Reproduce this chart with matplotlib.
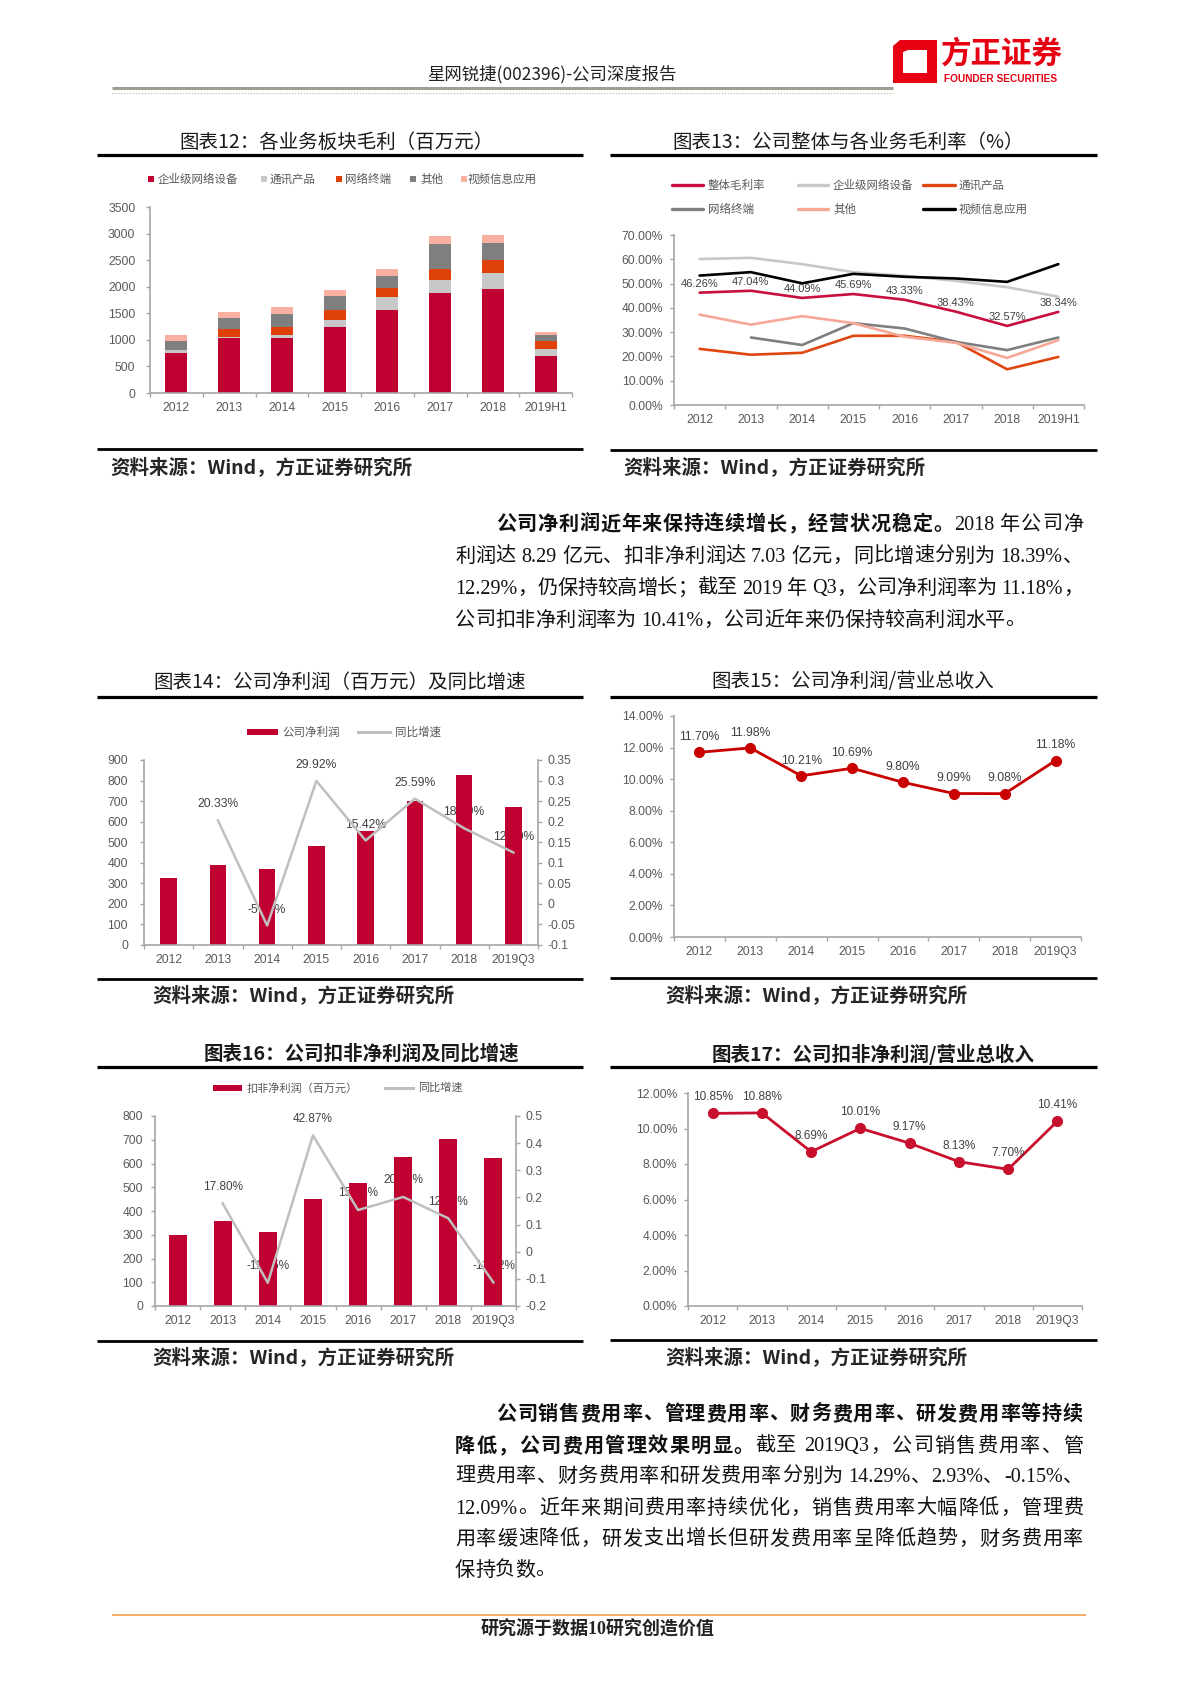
import numpy as np
import matplotlib
matplotlib.use('Agg')
import matplotlib.pyplot as plt
from matplotlib.lines import Line2D
from matplotlib.patches import Rectangle, PathPatch
from matplotlib.path import Path
from matplotlib.ticker import FuncFormatter

plt.rcParams['font.family'] = ['Liberation Sans', 'Noto Sans CJK SC', 'DejaVu Sans']
plt.rcParams['axes.unicode_minus'] = False

# ---------------- data ----------------
years_h1 = ['2012', '2013', '2014', '2015', '2016', '2017', '2018', '2019H1']
years_q3 = ['2012', '2013', '2014', '2015', '2016', '2017', '2018', '2019Q3']

# 图表12 各业务板块毛利（百万元）
seg_names = ['企业级网络设备', '通讯产品', '网络终端', '其他', '视频信息应用']
gp_enterprise = [750, 1030, 1030, 1240, 1560, 1890, 1950, 690]
gp_comm = [50, 30, 60, 140, 240, 230, 300, 130]
gp_terminal = [0, 140, 150, 180, 180, 210, 260, 150]
gp_other = [180, 210, 250, 270, 220, 470, 310, 120]
gp_video = [110, 120, 130, 110, 130, 150, 160, 50]

# 图表13 公司整体与各业务毛利率（%）
gm_names = ['整体毛利率', '企业级网络设备', '通讯产品', '网络终端', '其他', '视频信息应用']
gm_total = [46.26, 47.04, 44.09, 45.69, 43.33, 38.43, 32.57, 38.34]
gm_enterprise = [60.1, 60.6, 58.0, 54.7, 53.2, 51.1, 48.5, 44.6]
gm_comm = [23.1, 20.7, 21.5, 28.5, 28.5, 26.0, 14.7, 19.8]
gm_terminal = [np.nan, 27.8, 24.7, 33.7, 31.5, 26.0, 22.6, 27.8]
gm_other = [37.2, 33.1, 36.6, 33.7, 28.1, 25.6, 19.4, 26.7]
gm_video = [53.3, 54.7, 50.1, 54.0, 52.8, 52.1, 50.7, 58.0]

# 图表14 公司净利润（百万元）及同比增速
net_profit = [325, 388, 372, 480, 556, 700, 829, 670]
net_profit_yoy = [np.nan, 0.2033, -0.0526, 0.2992, 0.1542, 0.2559, 0.1839, 0.1250]

# 图表15 公司净利润/营业总收入 (%)
net_margin = [11.70, 11.98, 10.21, 10.69, 9.80, 9.09, 9.08, 11.18]

# 图表16 公司扣非净利润及同比增速
ded_profit = [301, 356, 312, 451, 520, 628, 703, 623]
ded_profit_yoy = [np.nan, 0.1780, -0.1145, 0.4287, 0.1534, 0.2018, 0.1229, -0.1132]

# 图表17 公司扣非净利润/营业总收入 (%)
ded_margin = [10.85, 10.88, 8.69, 10.01, 9.17, 8.13, 7.70, 10.41]

# ---------------- layout helpers ----------------
W, H = 1200, 1698
fig = plt.figure(figsize=(W / 100, H / 100), dpi=100)
fig.patch.set_facecolor('white')
renderer = fig.canvas.get_renderer()

CJK = ['Noto Sans CJK SC', 'Liberation Sans']
PFAM = ['Liberation Serif', 'Noto Sans CJK SC']
TICKC = '#595959'
AXC = '#A6A6A6'
LABC = '#404040'
RED = '#C00030'


def fy(y):
    return 1 - y / H


def axes_px(x0, y0, x1, y1):
    return fig.add_axes([x0 / W, 1 - y1 / H, (x1 - x0) / W, (y1 - y0) / H])


def hline(x0, x1, y, lw, color='black', ls='-'):
    fig.add_artist(Line2D([x0 / W, x1 / W], [fy(y), fy(y)], transform=fig.transFigure,
                          color=color, lw=lw, ls=ls, solid_capstyle='butt'))


def ftext(x, y, s, **kw):
    kw.setdefault('va', 'center')
    return fig.text(x / W, fy(y), s, **kw)


def style_axes(ax, labels, ypad):
    n = len(labels)
    ax.set_xlim(-0.5, n - 0.5)
    ax.set_xticks(np.arange(n))
    ax.set_xticklabels(labels)
    ax.set_xticks(np.arange(-0.5, n, 1.0), minor=True)
    ax.tick_params(axis='x', which='major', length=0, pad=6.5, labelsize=8.7, labelcolor=TICKC)
    ax.tick_params(axis='x', which='minor', length=3, width=1.0, color=AXC, direction='out')
    ax.tick_params(axis='y', which='major', length=3, width=1.0, color=AXC, direction='out',
                   labelsize=8.7, labelcolor=TICKC, pad=ypad)
    ax.spines['top'].set_visible(False)
    ax.spines['right'].set_visible(False)
    for s in ('left', 'bottom'):
        ax.spines[s].set_color(AXC)
        ax.spines[s].set_linewidth(1.2)
    ax.patch.set_alpha(0)


def chart_frame(title, xc, x0, x1, ytitle, yline, ybottom, src_x, src_y, weight='normal'):
    ftext(xc, ytitle, title, ha='center', fontsize=14, family=CJK, color='#1a1a1a', fontweight=weight)
    hline(x0, x1, yline, 2.3)
    hline(x0, x1, ybottom, 2.0)
    ftext(src_x, src_y, '资料来源：Wind，方正证券研究所', ha='left', fontsize=14,
          fontweight='bold', family=CJK, color='#262626')


def pct_fmt(v, p):
    return f'{v:.2f}%'


def g_fmt(v, p):
    r = round(v, 2)
    if abs(r) < 1e-9:
        r = 0
    return f'{r:g}'


# ---------------- header ----------------
ftext(552, 74, '星网锐捷(002396)-公司深度报告', ha='center', fontsize=12.5, family=CJK, color='#222222')
hline(112, 893, 88, 2.2, color='#A39E93')
hline(112, 893, 93, 0.8, color='#B5AE9F', ls=':')

# logo
logo_red = '#E60012'
verts = [(893, 46), (900, 40), (937, 40), (937, 83), (893, 83), (893, 46),
         (903, 52), (903, 73), (927, 73), (927, 50), (908, 50), (903, 52)]
codes = [Path.MOVETO] + [Path.LINETO] * 4 + [Path.CLOSEPOLY] + [Path.MOVETO] + [Path.LINETO] * 4 + [Path.CLOSEPOLY]
verts_fig = [(vx / W, fy(vy)) for vx, vy in verts]
fig.add_artist(PathPatch(Path(verts_fig, codes), transform=fig.transFigure, color=logo_red, lw=0))
ftext(941, 54, '方正证券', ha='left', fontsize=22, fontweight='bold', family=CJK, color=logo_red)
ftext(944, 79, 'FOUNDER SECURITIES', ha='left', fontsize=7.3, fontweight='bold', color=logo_red)

# ---------------- 图表12 ----------------
chart_frame('图表12：各业务板块毛利（百万元）', 336, 97, 583, 142, 155, 449, 110, 468)
ax = axes_px(150, 207, 572, 393)
seg_colors = ['#C00030', '#C8C8C8', '#E0400A', '#7F7F7F', '#F8B0A0']
x = np.arange(len(years_h1))
bottom = np.zeros(len(years_h1))
for vals, col in zip([gp_enterprise, gp_comm, gp_terminal, gp_other, gp_video], seg_colors):
    ax.bar(x, vals, width=0.42, bottom=bottom, color=col, zorder=2)
    bottom += np.array(vals, dtype=float)
ax.set_ylim(0, 3500)
ax.set_yticks(np.arange(0, 3501, 500))
style_axes(ax, years_h1, 7.5)
leg12 = [(148, 158), (261, 270), (336, 345), (410, 420), (461, 468)]
for (sx, tx), name, col in zip(leg12, seg_names, seg_colors):
    fig.add_artist(Rectangle((sx / W, fy(182)), 6 / W, 6 / H, transform=fig.transFigure, color=col, lw=0))
    ftext(tx, 179, name, ha='left', fontsize=8.3, family=CJK, color=TICKC)

# ---------------- 图表13 ----------------
chart_frame('图表13：公司整体与各业务毛利率（%）', 848, 610, 1097, 142, 155, 450, 623, 468)
ax = axes_px(674, 235, 1084, 405)
gm_colors = ['#C8103E', '#C8C8C8', '#E0460F', '#7F7F7F', '#F6A898', '#000000']
gm_series = [gm_total, gm_enterprise, gm_comm, gm_terminal, gm_other, gm_video]
x = np.arange(len(years_h1))
for vals, col in zip(gm_series, gm_colors):
    ax.plot(x, vals, color=col, lw=1.9, solid_capstyle='round', zorder=3)
for i, v in enumerate(gm_total):
    ax.annotate(f'{v:.2f}%', (i, v), xytext=(0, 6.5), textcoords='offset points',
                ha='center', va='center', fontsize=8, color=LABC, zorder=4)
ax.set_ylim(0, 70)
ax.set_yticks(np.arange(0, 71, 10))
ax.yaxis.set_major_formatter(FuncFormatter(pct_fmt))
style_axes(ax, years_h1, 4.9)
leg13_cols = [(672, 703, 708), (798, 828, 833), (923, 955, 959)]
leg13_rows = [185, 209]
for k, (name, col) in enumerate(zip(gm_names, gm_colors)):
    r, c = divmod(k, 3)
    lx0, lx1, tx = leg13_cols[c]
    yy = leg13_rows[r]
    fig.add_artist(Line2D([lx0 / W, lx1 / W], [fy(yy), fy(yy)], transform=fig.transFigure,
                          color=col, lw=2.4, solid_capstyle='round'))
    ftext(tx, yy, name, ha='left', fontsize=8.3, family=CJK, color=TICKC)

# ---------------- middle paragraph ----------------


def tokenize(s):
    toks, buf = [], ''
    for ch in s:
        if ord(ch) < 128 and ch != ' ':
            buf += ch
        else:
            if buf:
                toks.append(buf)
                buf = ''
            toks.append(ch)
    if buf:
        toks.append(buf)
    return toks


def draw_line(segments, x0, x1, y, fs=14.5, justify=True):
    items = []
    for s, bold in segments:
        for t in tokenize(s):
            if t == ' ':
                items.append((None, fs * 0.25 * 100 / 72))
            else:
                txt = fig.text(0, fy(y), t, fontsize=fs, fontweight='bold' if bold else 'normal',
                               family=PFAM, va='center', ha='left', color='#111111')
                items.append((txt, txt.get_window_extent(renderer).width))
    total = sum(w for _, w in items)
    n = len(items)
    gap = (x1 - x0 - total) / (n - 1) if (justify and n > 1) else 0
    xx = x0
    for txt, w in items:
        if txt is not None:
            txt.set_x(xx / W)
        xx += w + gap


para1 = [
    ([('公司净利润近年来保持连续增长，经营状况稳定。', True), ('2018 年公司净', False)], 496, True),
    ([('利润达 8.29 亿元、扣非净利润达 7.03 亿元，同比增速分别为 18.39%、', False)], 455, True),
    ([('12.29%，仍保持较高增长；截至 2019 年 Q3，公司净利润率为 11.18%，', False)], 455, True),
    ([('公司扣非净利润率为 10.41%，公司近年来仍保持较高利润水平。', False)], 455, False),
]
for (segs, x0, just), yy in zip(para1, [525, 557, 589, 621]):
    draw_line(segs, x0, 1083, yy, justify=just)

# ---------------- 图表14 ----------------
chart_frame('图表14：公司净利润（百万元）及同比增速', 340, 97, 583, 682, 697, 979, 152, 996)
ax = axes_px(144, 760, 538, 945)
x = np.arange(len(years_q3))
ax.bar(x, net_profit, width=0.33, color=RED, zorder=2)
ax.set_ylim(0, 900)
ax.set_yticks(np.arange(0, 901, 100))
style_axes(ax, years_q3, 8.5)
ax2 = ax.twinx()
ax2.plot(x, net_profit_yoy, color='#BFBFBF', lw=1.8, zorder=3)
ax2.set_ylim(-0.1, 0.35)
ax2.set_yticks(np.round(np.arange(-0.1, 0.351, 0.05), 2))
ax2.yaxis.set_major_formatter(FuncFormatter(g_fmt))
ax2.tick_params(axis='y', length=3, width=1.0, color=AXC, labelsize=8.7, labelcolor=TICKC, pad=4.2)
for s in ('top', 'left', 'bottom'):
    ax2.spines[s].set_visible(False)
ax2.spines['right'].set_color(AXC)
ax2.spines['right'].set_linewidth(1.2)
for i, v in enumerate(net_profit_yoy):
    if np.isnan(v):
        continue
    ax.annotate(f'{v * 100:.2f}%', xy=(i, v), xycoords=ax2.transData, xytext=(0, 11.5),
                textcoords='offset points', ha='center', va='center', fontsize=8.7,
                color=LABC, zorder=1)
fig.add_artist(Rectangle((247 / W, fy(735)), 31 / W, 6 / H, transform=fig.transFigure, color=RED, lw=0))
ftext(282, 732, '公司净利润', ha='left', fontsize=8.3, family=CJK, color=TICKC)
fig.add_artist(Line2D([358 / W, 390 / W], [fy(732), fy(732)], transform=fig.transFigure, color='#BFBFBF', lw=2.2))
ftext(395, 732, '同比增速', ha='left', fontsize=8.3, family=CJK, color=TICKC)

# ---------------- 图表15 ----------------
chart_frame('图表15：公司净利润/营业总收入', 853, 610, 1097, 682, 697, 978, 665, 996)
ax = axes_px(674, 716, 1081, 937)
x = np.arange(len(years_q3))
ax.plot(x, net_margin, color='#C80000', lw=2.0, marker='o', ms=7, zorder=3)
for i, v in enumerate(net_margin):
    ax.annotate(f'{v:.2f}%', (i, v), xytext=(0, 11), textcoords='offset points',
                ha='center', va='center', fontsize=8.7, color=LABC, zorder=4)
ax.set_ylim(0, 14)
ax.set_yticks(np.arange(0, 14.1, 2))
ax.yaxis.set_major_formatter(FuncFormatter(pct_fmt))
style_axes(ax, years_q3, 4.9)

# ---------------- 图表16 ----------------
chart_frame('图表16：公司扣非净利润及同比增速', 361, 97, 583, 1054, 1067, 1341, 152, 1358, weight='semibold')
ax = axes_px(155, 1116, 516, 1306)
x = np.arange(len(years_q3))
ax.bar(x, ded_profit, width=0.4, color=RED, zorder=2)
ax.set_ylim(0, 800)
ax.set_yticks(np.arange(0, 801, 100))
style_axes(ax, years_q3, 5.6)
ax2 = ax.twinx()
ax2.plot(x, ded_profit_yoy, color='#BFBFBF', lw=1.8, zorder=3)
ax2.set_ylim(-0.2, 0.5)
ax2.set_yticks(np.round(np.arange(-0.2, 0.51, 0.1), 1))
ax2.yaxis.set_major_formatter(FuncFormatter(g_fmt))
ax2.tick_params(axis='y', length=3, width=1.0, color=AXC, labelsize=8.7, labelcolor=TICKC, pad=3.5)
for s in ('top', 'left', 'bottom'):
    ax2.spines[s].set_visible(False)
ax2.spines['right'].set_color(AXC)
ax2.spines['right'].set_linewidth(1.2)
for i, v in enumerate(ded_profit_yoy):
    if np.isnan(v):
        continue
    ax.annotate(f'{v * 100:.2f}%', xy=(i, v), xycoords=ax2.transData, xytext=(0, 12),
                textcoords='offset points', ha='center', va='center', fontsize=8.5,
                color=LABC, zorder=1)
fig.add_artist(Rectangle((213 / W, fy(1091)), 29 / W, 6 / H, transform=fig.transFigure, color=RED, lw=0))
ftext(247, 1088, '扣非净利润（百万元）', ha='left', fontsize=8, family=CJK, color=TICKC)
fig.add_artist(Line2D([385 / W, 413 / W], [fy(1088), fy(1088)], transform=fig.transFigure, color='#BFBFBF', lw=2.2))
ftext(418, 1088, '同比增速', ha='left', fontsize=8, family=CJK, color=TICKC)

# ---------------- 图表17 ----------------
chart_frame('图表17：公司扣非净利润/营业总收入', 873, 610, 1097, 1054, 1067, 1340, 665, 1358, weight='semibold')
ax = axes_px(688, 1093, 1082, 1306)
x = np.arange(len(years_q3))
ax.plot(x, ded_margin, color='#C8102E', lw=2.0, marker='o', ms=7, zorder=3)
for i, v in enumerate(ded_margin):
    ax.annotate(f'{v:.2f}%', (i, v), xytext=(0, 11.5), textcoords='offset points',
                ha='center', va='center', fontsize=8.5, color=LABC, zorder=4)
ax.set_ylim(0, 12)
ax.set_yticks(np.arange(0, 12.1, 2))
ax.yaxis.set_major_formatter(FuncFormatter(pct_fmt))
style_axes(ax, years_q3, 4.9)

# ---------------- bottom paragraph ----------------
para2 = [
    ([('公司销售费用率、管理费用率、财务费用率、研发费用率等持续', True)], 496, True),
    ([('降低，公司费用管理效果明显。', True), ('截至 2019Q3，公司销售费用率、管', False)], 455, True),
    ([('理费用率、财务费用率和研发费用率分别为 14.29%、2.93%、-0.15%、', False)], 455, True),
    ([('12.09%。近年来期间费用率持续优化，销售费用率大幅降低，管理费', False)], 455, True),
    ([('用率缓速降低，研发支出增长但研发费用率呈降低趋势，财务费用率', False)], 455, True),
    ([('保持负数。', False)], 455, False),
]
for (segs, x0, just), yy in zip(para2, [1415, 1447, 1477, 1509, 1540, 1571]):
    draw_line(segs, x0, 1083, yy, justify=just)

# ---------------- footer ----------------
hline(112, 1086, 1615, 1.3, color='#F2A65A')
ftext(598, 1630, '研究源于数据10研究创造价值', ha='center', fontsize=13, fontweight='bold',
      family=['Liberation Serif', 'Noto Sans CJK SC'], color='#222222')

fig.savefig('out.png', dpi=100, facecolor='white')
